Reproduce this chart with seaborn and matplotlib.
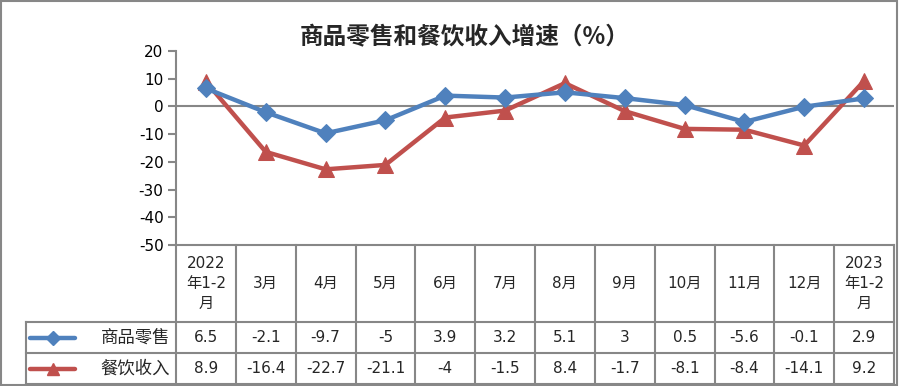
import numpy as np
import pandas as pd
import matplotlib
matplotlib.use("Agg")
import matplotlib.pyplot as plt
from matplotlib.patches import Rectangle
import seaborn as sns

sns.set_style("white")
plt.rcParams["font.family"] = ["DejaVu Sans", "Noto Sans CJK SC"]
plt.rcParams["axes.unicode_minus"] = False

# data
categories = ["2022\n年1-2\n月", "3月", "4月", "5月", "6月", "7月", "8月", "9月",
              "10月", "11月", "12月", "2023\n年1-2\n月"]
retail = [6.5, -2.1, -9.7, -5, 3.9, 3.2, 5.1, 3, 0.5, -5.6, -0.1, 2.9]
catering = [8.9, -16.4, -22.7, -21.1, -4, -1.5, 8.4, -1.7, -8.1, -8.4, -14.1, 9.2]
series_names = ["商品零售", "餐饮收入"]

blue = "#4F81BD"
red = "#C0504D"
grid_c = "#878787"

W, H = 901, 386
fig = plt.figure(figsize=(W / 100, H / 100), dpi=100)

# main plot area
ax = fig.add_axes([176 / W, 1 - 245 / H, 718 / W, 194 / H])
df = pd.DataFrame({"idx": np.arange(len(categories)), "retail": retail, "catering": catering})
sns.lineplot(data=df, x="idx", y="retail", ax=ax, color=blue, lw=3.2, marker="D",
             markersize=9, markeredgecolor=blue, zorder=4)
sns.lineplot(data=df, x="idx", y="catering", ax=ax, color=red, lw=3.2, marker="^",
             markersize=11, markeredgecolor=red, zorder=3)
ax.axhline(0, color=grid_c, lw=1.5, zorder=1)
ax.set_xlim(-0.5, len(categories) - 0.5)
ax.set_ylim(-50, 20)
ax.set_yticks(range(-50, 21, 10))
ax.set_xticks([])
ax.set_xlabel("")
ax.set_ylabel("")
for s in ["top", "right", "bottom"]:
    ax.spines[s].set_visible(False)
ax.spines["left"].set_color(grid_c)
ax.spines["left"].set_linewidth(1.5)
ax.tick_params(axis="y", left=True, length=6, width=1.5, color=grid_c, labelsize=11,
               labelcolor="#000000", pad=3)
ax.patch.set_alpha(0)

fig.text(465 / W, 1 - 37 / H, "商品零售和餐饮收入增速（%）", ha="center", va="center",
         fontsize=17, fontweight="bold", family=["Noto Sans CJK SC", "DejaVu Sans"])

# data table below the plot
n = len(categories)
colw = 718 / n
left_idx = -0.5 - (176 - 26) / colw
tax = fig.add_axes([26 / W, 1 - 384 / H, (894 - 26) / W, (384 - 245) / H])
tax.set_xlim(left_idx, n - 0.5)
tax.set_ylim(384, 245)
tax.axis("off")

lkw = dict(color=grid_c, lw=1.5, clip_on=False, solid_capstyle="projecting")
tax.plot([-0.5, n - 0.5], [245, 245], **lkw)
for yy in [322, 353, 384]:
    tax.plot([left_idx, n - 0.5], [yy, yy], **lkw)
for k in range(n + 1):
    tax.plot([k - 0.5, k - 0.5], [245, 384], **lkw)
tax.plot([left_idx, left_idx], [322, 384], **lkw)

for i, c in enumerate(categories):
    tax.text(i, 283.5, c, ha="center", va="center", fontsize=11, linespacing=1.45)
rows = [(retail, blue, "D", 7, 337.5), (catering, red, "^", 8, 368.5)]
for (vals, col, mk, ms, yy), name in zip(rows, series_names):
    for i, v in enumerate(vals):
        tax.text(i, yy, f"{v:g}", ha="center", va="center", fontsize=11)
    x0 = left_idx + 4 / colw
    x1 = left_idx + 49 / colw
    tax.plot([x0, x1], [yy, yy], color=col, lw=3.2, solid_capstyle="round", clip_on=False)
    tax.plot([(x0 + x1) / 2], [yy], marker=mk, color=col, markersize=ms, clip_on=False)
    tax.text(-0.5 - 6 / colw, yy, name, ha="right", va="center", fontsize=12.5)

# outer chart border
fig.patches.append(Rectangle((1 / W, 1 / H), 896 / W, 384 / H, transform=fig.transFigure,
                             fill=False, edgecolor=grid_c, lw=1.5))

fig.savefig("out.png", dpi=100)
